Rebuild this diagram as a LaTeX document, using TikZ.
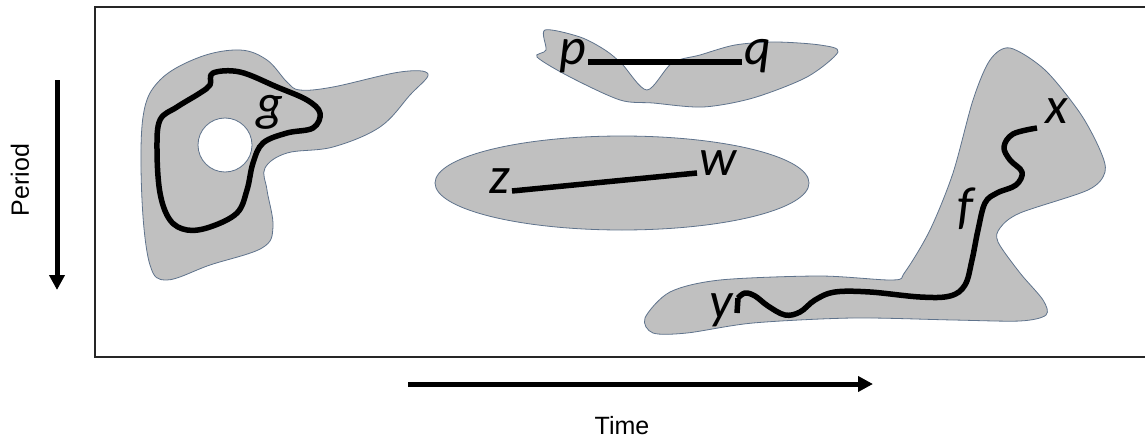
\documentclass[tikz,border=0pt]{standalone}
\usepackage{fontspec}
\setmainfont{Liberation Sans}
\newfontfamily\letterfont{Carlito}
\usepackage{xcolor}
\usetikzlibrary{arrows.meta}
\definecolor{blobgray}{RGB}{192,192,192}
\definecolor{blobedge}{RGB}{95,115,140}

\begin{document}
\begin{tikzpicture}[x=1pt,y=-1pt,
  blob/.style={fill=blobgray,draw=blobedge,line width=0.8pt},
  curve/.style={line width=5.5pt,line cap=round,line join=round},
  letter/.style={font=\fontsize{52}{52}\selectfont\letterfont\itshape,inner sep=2pt},
  axis/.style={line width=5pt,-{Triangle[length=15pt,width=15pt]}},
  caption/.style={font=\fontsize{25}{25}\selectfont}]

\useasboundingbox (0,0) rectangle (1145,444);
\draw [line width=1.2pt,black!85] (1150,7) -| (95,357) -- (1150,357);

\draw [blob] plot [smooth cycle,tension=0.6] coordinates {(240,50) (267,60) (287,82) (300,90) (333,87) (400,72) (428,74) (410,95) (380,127) (333,147) (287,153) (265,168) (267,190) (273,227) (262,248) (210,265) (167,280) (150,265) (142,200) (143,117) (160,80) (200,57)};
\draw [blob,fill=white] (225,145) circle (27);
\draw [curve] plot [smooth cycle,tension=0.6] coordinates {(213,73) (240,72) (277,87) (307,100) (320,113) (313,128) (287,133) (263,143) (253,163) (247,190) (237,213) (210,227) (187,230) (170,220) (160,193) (157,150) (160,120) (177,107) (200,93) (210,85)};
\node [letter,anchor=base] (v1) at (270,120) {g};

\draw [blob] plot [smooth cycle,tension=0.5] coordinates {(545,30) (580,37) (605,50) (622,64) (647,90) (672,63) (700,55) (735,45) (775,42) (820,45) (838,52) (807,77) (753,98) (703,107) (653,103) (620,100) (570,77) (537,57) (546,50)};
\node [letter,anchor=mid east] (v2) at (588,62) {p};
\node [letter,anchor=mid west] (v3) at (742,62) {q};
\draw [curve,line cap=butt] (v2.mid east) -- (v3.mid west);

\draw [blob] (622,183) ellipse (187 and 47);
\node [letter,anchor=mid east] (v4) at (512,191) {z};
\node [letter,anchor=mid west] (v5) at (697,173) {w};
\draw [curve,line cap=butt] (v4.mid east) -- (v5.mid west);

\draw [blob] plot [smooth cycle,tension=0.5] coordinates {(1010,48) (1045,70) (1080,113) (1100,150) (1105,172) (1088,190) (1020,213) (1000,228) (998,242) (1020,273) (1043,300) (1046,315) (1020,321) (953,320) (853,318) (753,323) (687,333) (653,333) (645,318) (670,292) (720,280) (820,276) (893,280) (905,272) (930,230) (953,173) (973,100) (990,60)};
\draw [curve,line cap=butt] (737,313) -- (738,298) plot [smooth,tension=0.6] coordinates {(738,298) (745,293) (755,296) (768,306) (785,315) (800,312) (815,300) (835,292) (870,292) (920,297) (950,296) (965,285) (972,260) (978,230) (985,203) (997,193) (1016,185) (1022,172) (1010,160) (1004,147) (1013,134) (1037,128)};
\node [letter,anchor=base] (v6) at (1057,123) {x};
\node [letter] (v7) at (965,209) {f};
\node [letter,anchor=base] (v8) at (721,318) {y};

\coordinate (v9) at (57,80);
\coordinate (v10) at (57,290);
\draw [axis] (v9) -- (v10);
\node [caption,rotate=90] (v11) at (20,180) {Period};

\coordinate (v12) at (408,384);
\coordinate (v13) at (873,384);
\draw [axis] (v12) -- (v13);
\node [caption] (v14) at (622,426) {Time};
\end{tikzpicture}
\end{document}
